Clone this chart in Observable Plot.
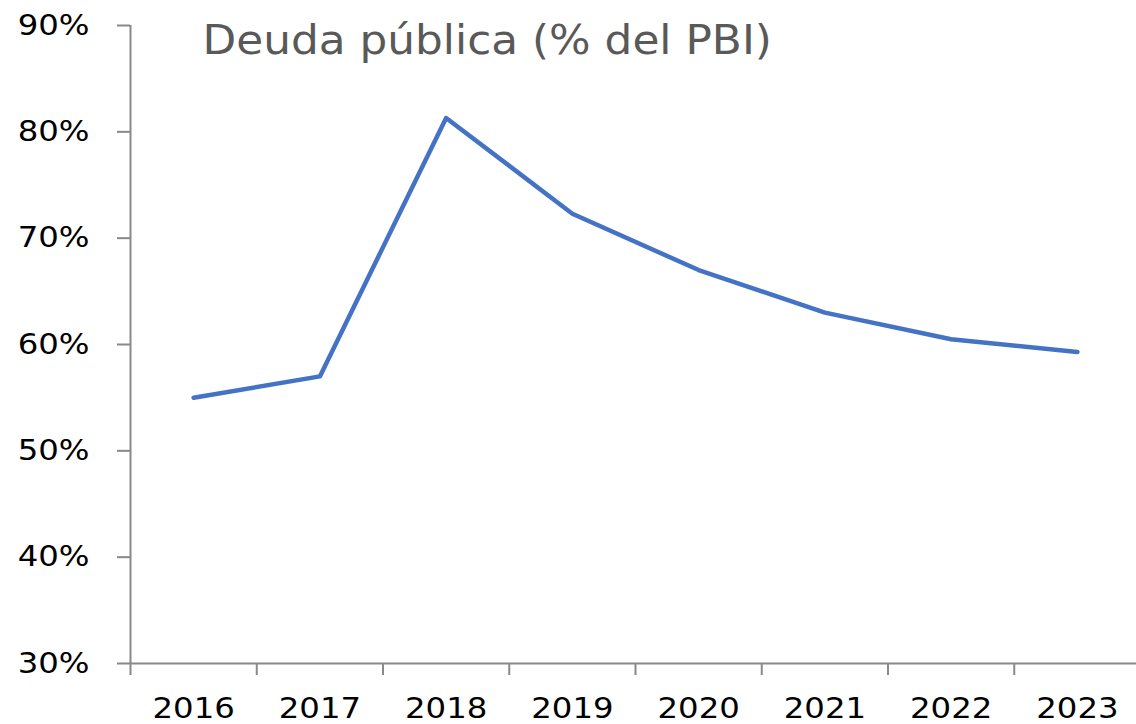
<!DOCTYPE html>
<html><head><meta charset="utf-8">
<script src="https://cdn.jsdelivr.net/npm/d3@7"></script>
<script src="https://cdn.jsdelivr.net/npm/@observablehq/plot@0.6"></script>
<style>
body{margin:0;background:#fff}
svg{display:block}
</style>
</head><body><div id="chart"></div>
<script>
const years = [2016, 2017, 2018, 2019, 2020, 2021, 2022, 2023];
const deuda = [55.0, 57.0, 81.3, 72.3, 67.0, 63.0, 60.5, 59.3];
const yTicks = [30, 40, 50, 60, 70, 80, 90];
const xTickLabels = ["2016", "2017", "2018", "2019", "2020", "2021", "2022", "2023"];
const title = "Deuda pública (% del PBI)";

const data = years.map((year, i) => ({year, value: deuda[i]}));
const boundaries = [...years.map(y => y - 0.5), years[years.length - 1] + 0.5];
const axisColor = "#898989";

const chart = Plot.plot({
  width: 1136, height: 724,
  marginTop: 25, marginBottom: 61, marginLeft: 130, marginRight: 0,
  style: {fontFamily: "DejaVu Sans, Verdana, sans-serif", background: "#fff", overflow: "visible"},
  x: {type: "linear", domain: [boundaries[0], boundaries[boundaries.length - 1]], range: [130, 1140]},
  y: {domain: [yTicks[0], yTicks[yTicks.length - 1]], range: [663, 25]},
  marks: [
    Plot.axisY(yTicks, {tickSize: 13, tickFormat: () => "", color: axisColor, strokeWidth: 2, label: null}),
    Plot.axisY(yTicks, {tickSize: 0, tickPadding: 41, tickFormat: d => d + "%", fontSize: 29, color: "#000", label: null}),
    Plot.axisX(boundaries, {tickSize: 12, tickFormat: () => "", color: axisColor, strokeWidth: 2, label: null}),
    Plot.axisX(years, {tickSize: 0, tickPadding: 34, tickFormat: d => xTickLabels[years.indexOf(d)], fontSize: 29, color: "#000", label: null}),
    Plot.ruleX([boundaries[0]], {stroke: axisColor, strokeWidth: 2}),
    Plot.ruleY([yTicks[0]], {stroke: axisColor, strokeWidth: 2}),
    Plot.line(data, {x: "year", y: "value", stroke: "#4472C4", strokeWidth: 4.5, strokeLinejoin: "round", strokeLinecap: "round"}),
    Plot.text([title], {frameAnchor: "top-left", dx: 72, dy: 0, lineAnchor: "top", textAnchor: "start", fontSize: 40, fill: "#595959"})
  ]
});
document.getElementById("chart").append(chart);

// the reference's glyphs are horizontally wider than DejaVu's: stretch them in place
chart.querySelectorAll("text").forEach(el => {
  if (!el.textContent) return;
  const s = el.textContent === title ? 1.095 : 1.115;
  const t = el.getAttribute("transform") || "";
  el.setAttribute("transform", t + ` scale(${s},1)`);
});
</script>
</body></html>
